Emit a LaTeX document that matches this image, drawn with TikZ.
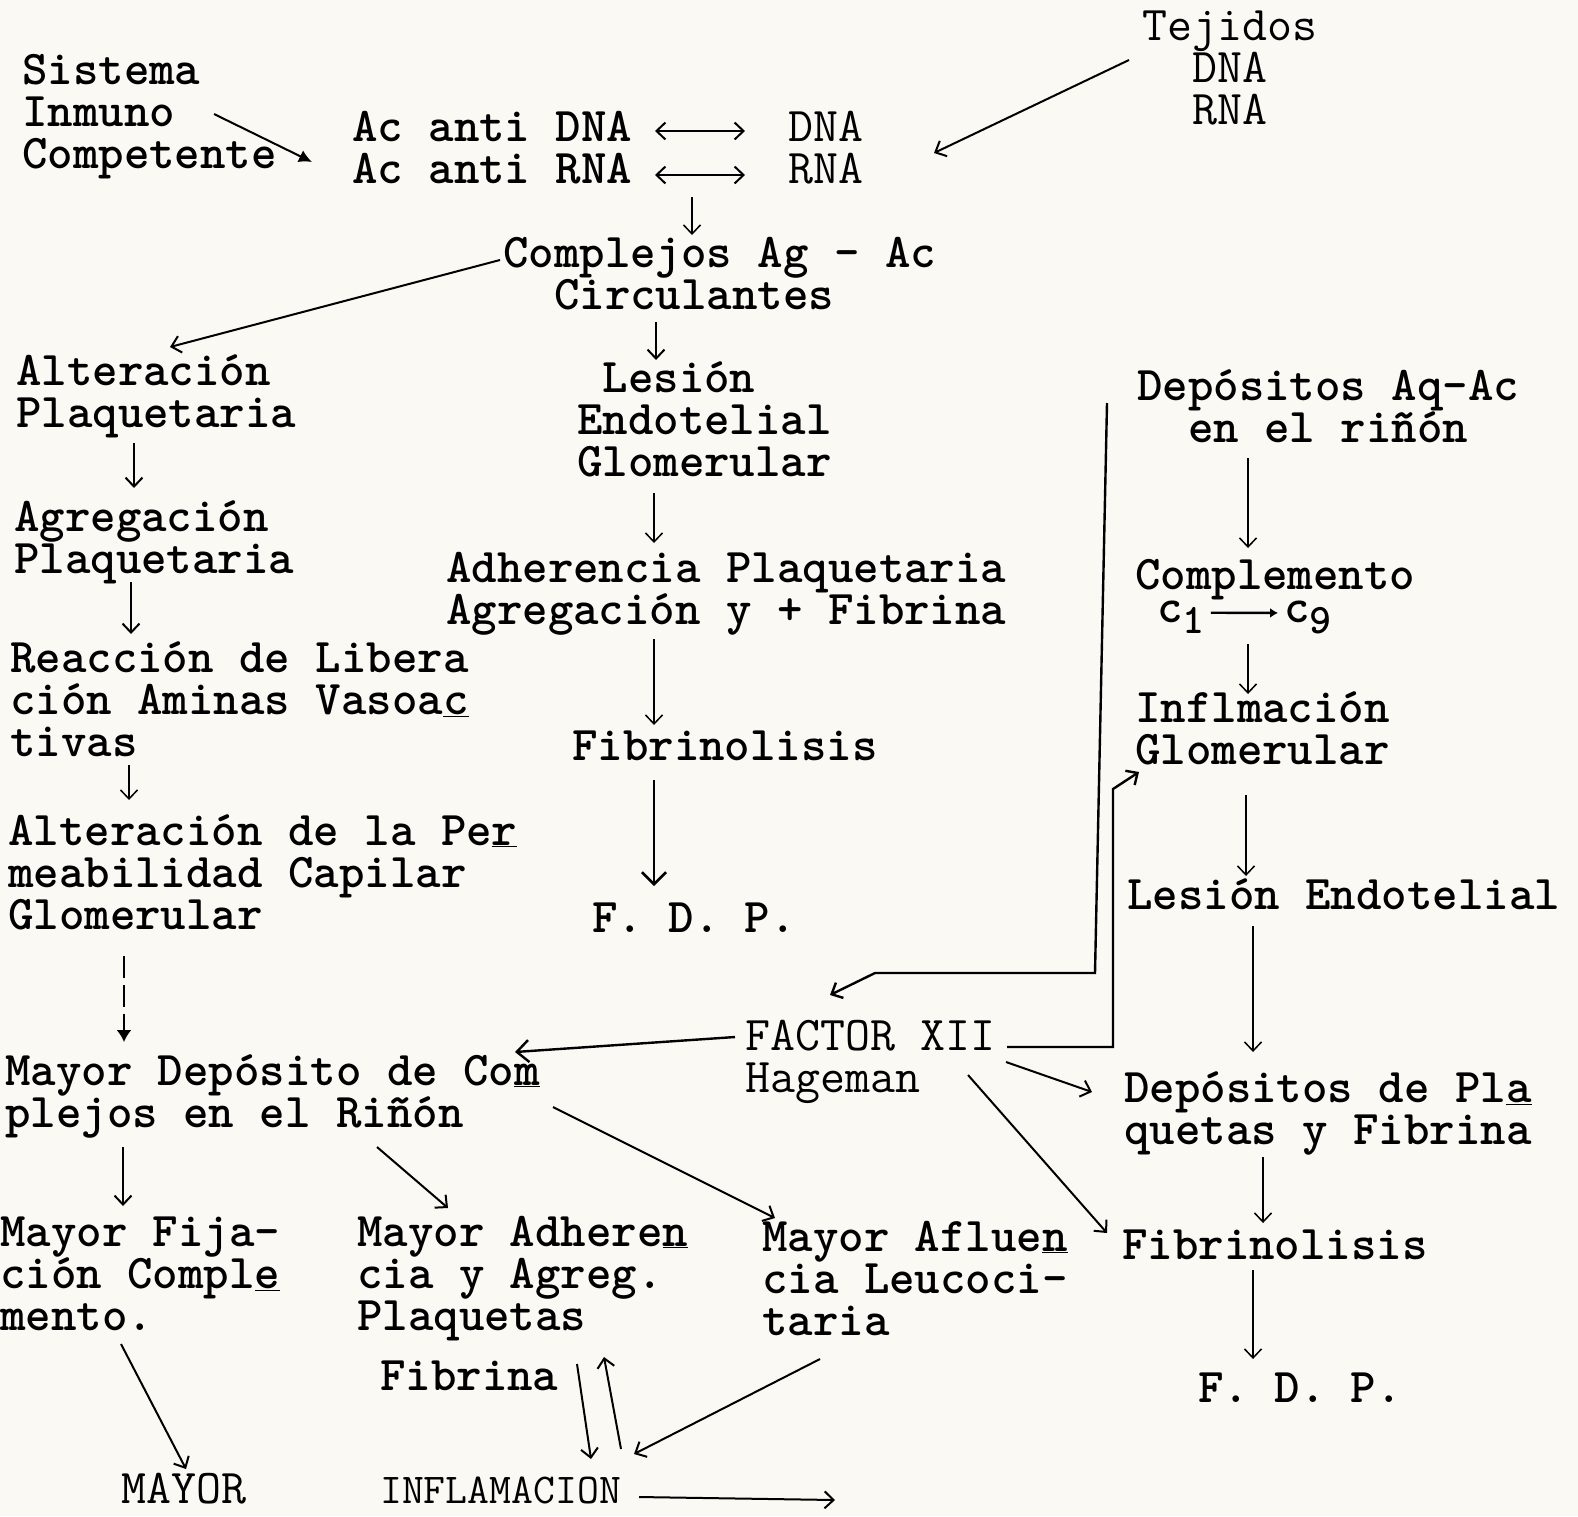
\documentclass[tikz,border=0pt]{standalone}
\usepackage{tikz}
\usetikzlibrary{arrows.meta}
\definecolor{paper}{HTML}{FAF9F3}
\newcommand{\lead}{\rule{0pt}{36pt}}

\begin{document}
\begin{tikzpicture}[x=1pt, y=-1pt,
  >={Straight Barb[length=9pt,width=17pt]},
  txt/.style={anchor=north west, inner sep=0pt, align=left,
    font={\fontsize{48.5}{42}\selectfont\ttfamily\bfseries\lineskiplimit=-20pt},
    execute at begin node=\lead},
  thintxt/.style={txt, font={\fontsize{48.5}{42}\selectfont\ttfamily\lineskiplimit=-20pt}},
  subtxt/.style={anchor=base west, inner sep=0pt,
    font={\fontsize{48.5}{42}\selectfont\ttfamily\bfseries}},
  arr/.style={line width=2pt, ->},
  darr/.style={line width=2pt, <->}]
\useasboundingbox (0,0) rectangle (1578,1516);
\fill[paper] (0,0) rectangle (1578,1516);

% top row
\node[txt] (sis) at (22,48) {\lead Sistema\\Inmuno\\Competente};
\node[txt] (acanti) at (352,105) {\lead Ac anti DNA\\Ac anti RNA};
\node[thintxt] (dnarna) at (788,105) {\lead DNA\\RNA};
\node[thintxt] (tej) at (1142,4) {\lead Tejidos\\\ \ DNA\\\ \ RNA};
\node[txt] (comp) at (503,231) {\lead Complejos Ag - Ac\\\ \ Circulantes};

% left column
\node[txt] (alt) at (16,349) {\lead Alteración\\Plaquetaria};
\node[txt] (agr) at (14,495) {\lead Agregación\\Plaquetaria};
\node[txt] (reac) at (10,636) {\lead Reacción de Libera\\ción Aminas Vasoa\underline{c}\\tivas};
\node[txt] (altper) at (8,809) {\lead Alteración de la Pe\underline{r}\\meabilidad Capilar\\Glomerular};
\node[txt] (mdep) at (5,1049) {\lead Mayor Depósito de Co\underline{m}\\plejos en el Riñón};
\node[txt] (mfij) at (0,1210) {\lead Mayor Fija-\\ción Compl\underline{e}\\mento.};
\node[thintxt] (mayor) at (121,1467) {MAYOR};

% middle column
\node[txt] (les) at (577,356) {\lead\ Lesión\\Endotelial\\Glomerular};
\node[txt] (adh) at (446,546) {\lead Adherencia Plaquetaria\\Agregación y + Fibrina};
\node[txt] (fibA) at (572,724) {Fibrinolisis};
\node[txt] (fdpA) at (592,896) {F. D. P.};
\node[thintxt] (fac) at (745,1014) {\lead FACTOR XII\\Hageman};
\node[txt] (madh) at (357,1210) {\lead Mayor Adhere\underline{n}\\cia y Agreg.\\Plaquetas};
\node[txt] (mafl) at (762,1215) {\lead Mayor Aflue\underline{n}\\cia Leucoci-\\taria};
\node[txt] (fibrina) at (380,1354) {Fibrina};
\node[thintxt, font={\fontsize{42.5}{42}\selectfont\ttfamily}] (infl) at (380,1467) {INFLAMACION};
\coordinate (inflout) at (835,1500);

% right column
\node[txt] (dep) at (1137,364) {\lead Depósitos Aq-Ac\\\ \ en el riñón};
\node[txt] (compl) at (1135,553) {Complemento};
\node[subtxt] (cA) at (1157,626) {\raisebox{4pt}{c}\raisebox{-7pt}{\fontsize{42}{42}\selectfont 1}};
\node[subtxt] (cB) at (1284,626) {\raisebox{4pt}{c}\raisebox{-7pt}{\fontsize{42}{42}\selectfont 9}};
\node[txt] (inflm) at (1135,686) {\lead Inflmación\\Glomerular};
\node[txt] (lesend) at (1127,873) {Lesión Endotelial};
\node[txt] (depp) at (1124,1066) {\lead Depósitos de Pl\underline{a}\\quetas y Fibrina};
\node[txt] (fibB) at (1122,1223) {Fibrinolisis};
\node[txt] (fdpB) at (1198,1366) {F. D. P.};

% arrows, top
\draw[line width=2pt, -{Latex[length=13pt,width=13pt]}] ([shift={(192,66)}]sis.north west) -- ([shift={(-40,57)}]acanti.north west);
\draw[darr] ([shift={(303,26)}]acanti.north west) -- ([shift={(-43,26)}]dnarna.north west);
\draw[darr] ([shift={(303,70)}]acanti.north west) -- ([shift={(-43,70)}]dnarna.north west);
\draw[arr] ([shift={(-13,56)}]tej.north west) -- ([shift={(146,48)}]dnarna.north west);
\draw[arr, line width=1.5pt] ([shift={(340,92)}]acanti.north west) -- ([shift={(189,4)}]comp.north west);
\draw[arr] ([shift={(-3,29)}]comp.north west) -- ([shift={(154,-2)}]alt.north west);
\draw[arr] ([shift={(153,91)}]comp.north west) -- ([shift={(79,4)}]les.north west);

% arrows, left column
\draw[arr] ([shift={(118,94)}]alt.north west) -- ([shift={(120,-7)}]agr.north west);
\draw[arr] ([shift={(117,87)}]agr.north west) -- ([shift={(121,-2)}]reac.north west);
\draw[arr, line width=1.5pt] ([shift={(119,129)}]reac.north west) -- ([shift={(121,-9)}]altper.north west);
\draw[line width=2pt, dash pattern=on 22pt off 7pt, -{Latex[length=12pt,width=15pt]}] ([shift={(116,147)}]altper.north west) -- ([shift={(119,-7)}]mdep.north west);
\draw[arr] ([shift={(118,98)}]mdep.north west) -- ([shift={(123,-4)}]mfij.north west);
\draw[arr] ([shift={(372,98)}]mdep.north west) -- ([shift={(91,-2)}]madh.north west);
\draw[arr] ([shift={(548,58)}]mdep.north west) -- ([shift={(13,3)}]mafl.north west);
\draw[arr] ([shift={(121,134)}]mfij.north west) -- ([shift={(65,2)}]mayor.north west);

% arrows, middle column
\draw[arr, line width=1.5pt] ([shift={(77,137)}]les.north west) -- ([shift={(208,-3)}]adh.north west);
\draw[arr, line width=1.5pt] ([shift={(208,93)}]adh.north west) -- ([shift={(82,1)}]fibA.north west);
\draw[line width=2.6pt, -{Straight Barb[length=12pt,width=24pt]}] ([shift={(82,56)}]fibA.north west) -- ([shift={(62,-10)}]fdpA.north west);
\draw[line width=2.4pt, -{Straight Barb[length=12pt,width=22pt]}] ([shift={(-10,23)}]fac.north west) -- ([shift={(510,3)}]mdep.north west);
\draw[arr] ([shift={(197,10)}]fibrina.north west) -- ([shift={(211,-8)}]infl.north west);
\draw[arr] ([shift={(241,-18)}]infl.north west) -- ([shift={(224,3)}]fibrina.north west);
\draw[arr] ([shift={(58,144)}]mafl.north west) -- ([shift={(254,-13)}]infl.north west);
\draw[arr] ([shift={(259,30)}]infl.north west) -- (inflout);

% arrows, right column
\draw[arr, line width=1.5pt] ([shift={(111,94)}]dep.north west) -- ([shift={(113,-5)}]compl.north west);
\draw[line width=2.4pt, -{Latex[length=8pt,width=10pt]}] ([xshift=6pt, yshift=4pt]cA.east) -- ([xshift=-6pt, yshift=4pt]cB.west);
\draw[arr, line width=1.5pt] ([shift={(113,91)}]compl.north west) -- ([shift={(113,8)}]inflm.north west);
\draw[arr, line width=1.5pt] ([shift={(111,109)}]inflm.north west) -- ([shift={(119,3)}]lesend.north west);
\draw[arr, line width=1.5pt] ([shift={(126,53)}]lesend.north west) -- ([shift={(129,-14)}]depp.north west);
\draw[arr, line width=1.5pt] ([shift={(139,91)}]depp.north west) -- ([shift={(141,0)}]fibB.north west);
\draw[arr, line width=1.5pt] ([shift={(131,47)}]fibB.north west) -- ([shift={(55,-7)}]fdpB.north west);

% Factor XII links
\draw[arr, line width=2.4pt] ([shift={(-30,39)}]dep.north west) -- ++(-12,570) -- ++(-220,0) -- ([shift={(85,-19)}]fac.north west);
\draw[arr, line width=2.4pt] ([shift={(262,33)}]fac.north west) -- ++(106,0) -- ++(0,-258) -- ([shift={(4,86)}]inflm.north west);
\draw[arr] ([shift={(261,48)}]fac.north west) -- ([shift={(-32,26)}]depp.north west);
\draw[arr] ([shift={(223,61)}]fac.north west) -- ([shift={(-15,10)}]fibB.north west);
\end{tikzpicture}
\end{document}
